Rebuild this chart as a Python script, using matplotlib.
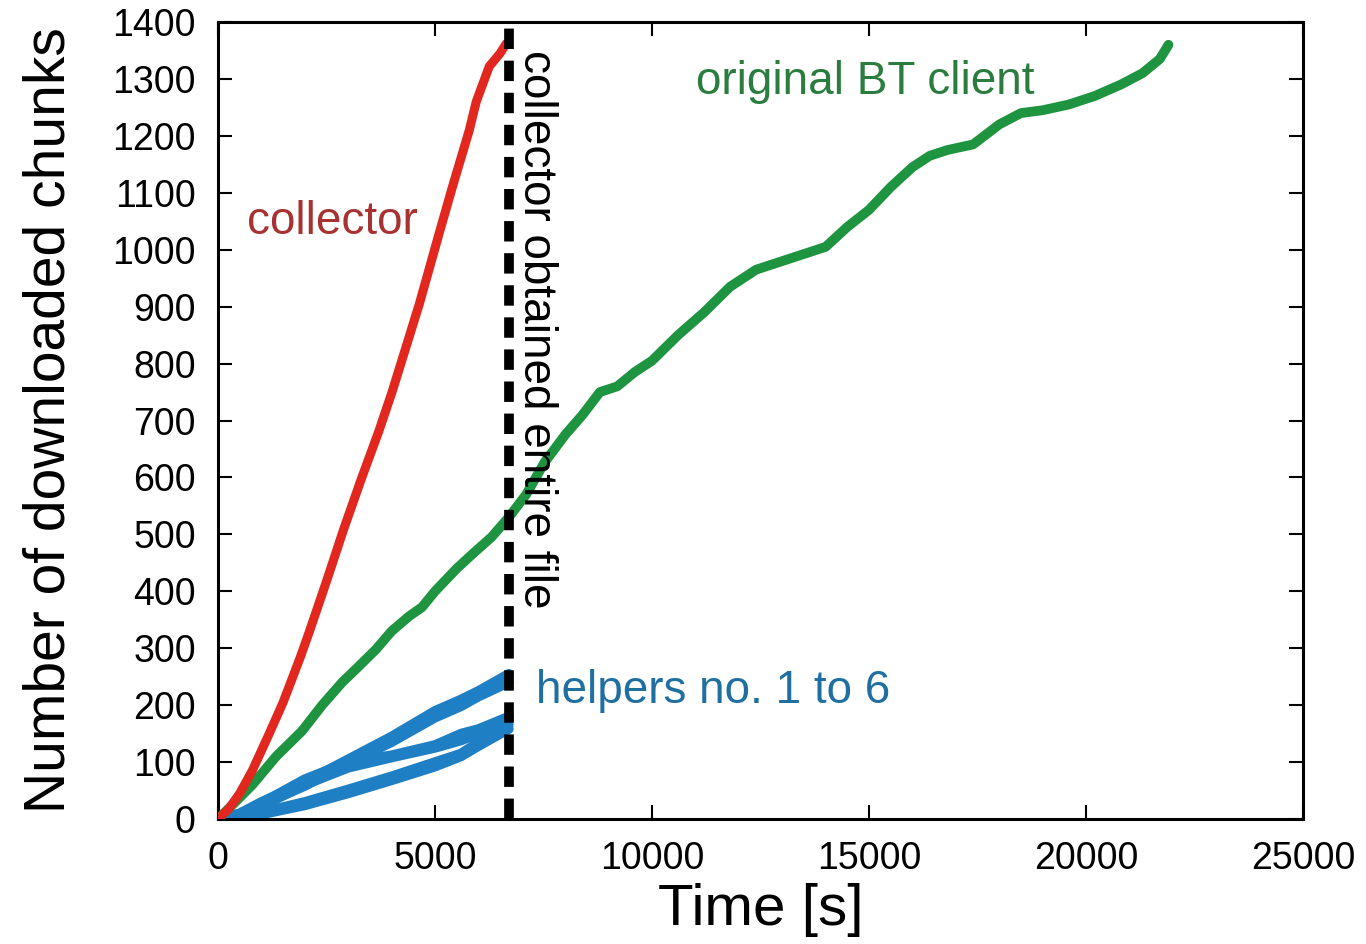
import matplotlib.pyplot as plt

plt.rcParams['font.family'] = ['Liberation Sans', 'DejaVu Sans']

# collector (red)
collector_t = [0, 250, 500, 790, 1180, 1500, 1900, 2100, 2510, 2900, 3300, 3700,
               4010, 4640, 5100, 5400, 5790, 5950, 6250, 6500, 6640]
collector_n = [0, 18, 45, 85, 150, 205, 285, 328, 420, 510, 597, 680,
               750, 905, 1030, 1110, 1210, 1260, 1322, 1345, 1362]

# original BT client (green)
bt_t = [0, 400, 790, 1340, 1940, 2400, 2860, 3200, 3640, 4000, 4400, 4700,
        5000, 5500, 5900, 6300, 6700, 7100, 7520, 8000, 8400, 8800, 9200,
        9600, 10000, 10600, 11200, 11800, 12400, 13000, 13600, 14000, 14500,
        15000, 15500, 16000, 16400, 16800, 17400, 18000, 18500, 19000, 19600,
        20200, 20800, 21300, 21700, 21900]
bt_n = [0, 30, 60, 110, 155, 200, 240, 265, 298, 330, 356, 372,
        400, 440, 468, 495, 530, 570, 626, 675, 710, 750, 760,
        785, 805, 850, 890, 935, 965, 980, 995, 1005, 1040,
        1070, 1110, 1145, 1165, 1175, 1185, 1220, 1240, 1245, 1255,
        1270, 1290, 1310, 1335, 1360]

# helpers no. 1 to 6 (blue)
helpers_t = [0, 500, 1000, 2000, 3000, 4000, 5000, 5600, 6000, 6700]
helpers_n = [
    [0, 10, 30, 65, 105, 145, 190, 210, 225, 255],
    [0, 8, 25, 58, 98, 135, 178, 198, 215, 240],
    [0, 9, 28, 70, 100, 112, 130, 150, 158, 180],
    [0, 7, 22, 60, 90, 108, 125, 138, 150, 172],
    [0, 4, 12, 30, 52, 75, 100, 115, 135, 165],
    [0, 3, 8, 24, 45, 68, 92, 110, 128, 158],
]

t_done = 6700

fig = plt.figure(figsize=(13.66, 9.44), dpi=100)
ax = fig.add_axes([0.1596, 0.1324, 0.7943, 0.8443])

for h in helpers_n:
    ax.plot(helpers_t, h, color='#1f7fc4', lw=7, solid_capstyle='round', zorder=2)
ax.plot(bt_t, bt_n, color='#1e9440', lw=7, solid_capstyle='round', zorder=3)
ax.plot(collector_t, collector_n, color='#e2271e', lw=6.5, solid_capstyle='round', zorder=4)
ax.axvline(t_done, color='black', lw=7, dashes=(2.1, 1.2), dash_capstyle='butt', zorder=5)

ax.text(6820, 1350, 'collector obtained entire file', rotation=-90,
        fontsize=33, va='top', ha='left', color='black')
ax.text(670, 1049, 'collector', fontsize=33, color='#a83232', va='center')
ax.text(11020, 1295, 'original BT client', fontsize=33, color='#2a7d3e', va='center')
ax.text(7330, 225, 'helpers no. 1 to 6', fontsize=33, color='#1f6fa0', va='center')

ax.set_xlim(0, 25000)
ax.set_ylim(0, 1400)
ax.set_xticks(range(0, 25001, 5000))
ax.set_yticks(range(0, 1401, 100))
ax.tick_params(direction='in', length=10, width=1.5, top=True, right=True,
               labelsize=27)
ax.tick_params(axis='x', pad=16)
ax.tick_params(axis='y', pad=16)
for s in ax.spines.values():
    s.set_linewidth(2.2)
ax.set_xlabel('Time [s]', fontsize=42, labelpad=4)
ax.set_ylabel('Number of downloaded chunks', fontsize=41, labelpad=26)

fig.savefig('out.png', dpi=100)
